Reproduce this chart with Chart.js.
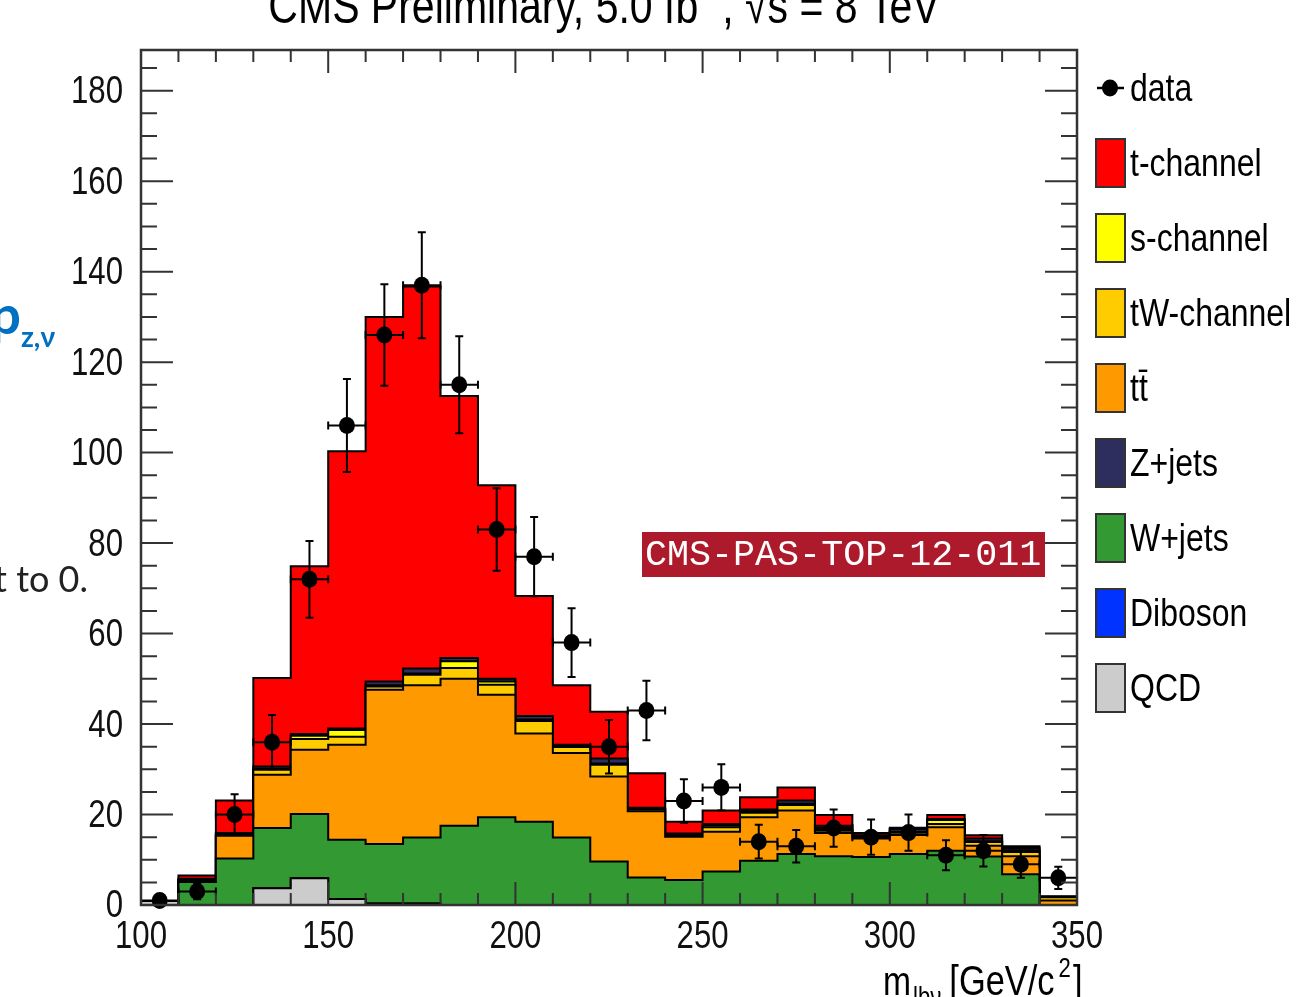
<!DOCTYPE html>
<html><head><meta charset="utf-8">
<script src="https://cdn.jsdelivr.net/npm/chart.js@4.4.0/dist/chart.umd.min.js"></script>
<style>html,body{margin:0;padding:0;background:#fff;overflow:hidden}</style>
</head><body>
<canvas id="c" width="1309" height="997"></canvas>
<script>
// ---- data (bin lower edges, width 10) ----
const binEdges = [100,110,120,130,140,150,160,170,180,190,200,210,220,230,240,250,260,270,280,290,300,310,320,330,340];
const xUpper = 350;
const xTickValues = [100,150,200,250,300,350];
const yTickValues = [0,20,40,60,80,100,120,140,160,180];
const dataCounts  = [1,3,20,36,72,106,126,137,115,83,77,58,35,43,23,26,14,13,17,15,16,11,12,9,6];
const qcdVals     = [0.9,0,0,3.7,5.9,1.3,0,0,0,0,0,0,0,0,0,0,0,0,0,0,0,0,0,0,0];
const dibosonVals = [0,0,0,0,0,0,0.4,0.4,0,0,0,0,0,0,0,0,0,0,0,0,0,0,0,0,0];
const wjetsVals   = [0,5.1,10.3,13.3,14.2,13.1,13.1,14.5,17.5,19.4,18.4,14.9,9.6,6.1,5.5,7.4,9.8,11.3,10.8,10.6,11.3,12.0,10.7,6.8,0];
const ttbarVals   = [0,0.3,5.0,11.8,14.2,21.0,34.1,33.7,32.5,27.1,19.5,18.7,18.8,14.6,9.6,8.8,9.6,9.6,5.1,4.1,4.2,5.2,2.4,4.0,1.0];
const twVals      = [0,0.2,0.3,1.1,2.4,1.8,0.7,2.3,2.4,2.2,2.8,1.3,2.6,0.4,0.2,1.0,1.0,1.2,0.5,0.3,0.5,0.7,0.8,0.9,0.7];
const schanVals   = [0,0,0.1,0.2,0.7,1.5,0.3,0.3,1.5,0.7,0.3,0.2,0.3,0.1,0.1,0.4,0.4,0.3,0.2,0.1,0.2,0.9,0.2,0.4,0.1];
const zjetsVals   = [0,0.2,0.2,0.5,0.4,0.3,0.8,1.1,0.7,0.6,0.8,0.3,1.1,0.3,0.4,0.3,0.3,0.7,0.9,0.3,0.6,0.2,0.6,0.5,0.1];
const tchanVals   = [0,0.7,7.2,19.6,37.1,61.3,80.6,84.4,57.9,42.8,26.5,13.2,10.3,7.6,2.6,3.0,2.7,2.9,2.4,0.5,0.3,0.9,0.7,0.4,0];

const FONT = "'Liberation Sans',Arial,sans-serif";
const SX = 0.82; // horizontal squeeze to mimic the condensed ROOT font

function stepPoints(vals){
  const pts = binEdges.map((e,i)=>({x:e, y:vals[i]}));
  pts.push({x:xUpper, y:vals[vals.length-1]});
  return pts;
}
// stacking order: bottom -> top
const components = [
  {label:'QCD',        vals:qcdVals,     color:'#cccccc'},
  {label:'Diboson',    vals:dibosonVals, color:'#0033ff'},
  {label:'W+jets',     vals:wjetsVals,   color:'#339933'},
  {label:'tt̄',         vals:ttbarVals,   color:'#ff9900'},
  {label:'tW-channel', vals:twVals,      color:'#ffcc00'},
  {label:'s-channel',  vals:schanVals,   color:'#ffff00'},
  {label:'Z+jets',     vals:zjetsVals,   color:'#2e2e5e'},
  {label:'t-channel',  vals:tchanVals,   color:'#ff0000'}
];
const legendOrder = ['t-channel','s-channel','tW-channel','tt̄','Z+jets','W+jets','Diboson','QCD'];

const datasets = components.map((c,i)=>({
  label:c.label, data:stepPoints(c.vals), stepped:true,
  backgroundColor:c.color, borderColor:'#000', borderWidth:2,
  pointRadius:0, fill: i===0 ? 'origin' : '-1'
}));

function sText(ctx, str, x, y, size, align, opts){
  opts = opts || {};
  const sx = opts.sx ?? SX;
  ctx.save();
  ctx.font = (opts.weight?opts.weight+' ':'') + size + 'px ' + (opts.family||FONT);
  ctx.textBaseline = opts.baseline || 'alphabetic';
  ctx.textAlign = 'left';
  if (opts.color) ctx.fillStyle = opts.color;
  const w = ctx.measureText(str).width * sx;
  const x0 = align==='right' ? x-w : align==='center' ? x-w/2 : x;
  ctx.translate(x0, y); ctx.scale(sx, 1);
  ctx.fillText(str, 0, 0);
  ctx.restore();
  return w;
}

const overlay = {
  id:'overlay',
  afterDatasetsDraw(chart){
    const {ctx, scales:{x,y}} = chart;
    ctx.save();
    ctx.strokeStyle='#000'; ctx.fillStyle='#000'; ctx.lineWidth=2;
    dataCounts.forEach((n,i)=>{
      const lo=binEdges[i], hi=(i+1<binEdges.length?binEdges[i+1]:xUpper), c=(lo+hi)/2;
      const px=x.getPixelForValue(c), py=y.getPixelForValue(n);
      const xl=x.getPixelForValue(lo), xr=x.getPixelForValue(hi);
      const e=Math.sqrt(n);
      const yt=y.getPixelForValue(n+e), yb=y.getPixelForValue(Math.max(0,n-e));
      ctx.beginPath();
      ctx.moveTo(xl,py);ctx.lineTo(xr,py);
      ctx.moveTo(xl,py-4);ctx.lineTo(xl,py+4);
      ctx.moveTo(xr,py-4);ctx.lineTo(xr,py+4);
      ctx.moveTo(px,yt);ctx.lineTo(px,yb);
      ctx.moveTo(px-4,yt);ctx.lineTo(px+4,yt);
      ctx.moveTo(px-4,yb);ctx.lineTo(px+4,yb);
      ctx.stroke();
      ctx.beginPath(); ctx.ellipse(px,py,8,8.5,0,0,2*Math.PI); ctx.fill();
    });
    ctx.restore();
  },
  afterDraw(chart){
    const {ctx, chartArea:a, scales:{x,y}} = chart;
    ctx.save();
    // tick marks (inside, all four sides)
    ctx.strokeStyle='#333'; ctx.lineWidth=2;
    ctx.beginPath();
    for(let v=100; v<=350; v+=10){
      const px=x.getPixelForValue(v);
      const L = (v%50===0)?23:12;
      ctx.moveTo(px,a.bottom);ctx.lineTo(px,a.bottom-L);
      ctx.moveTo(px,a.top);ctx.lineTo(px,a.top+L);
    }
    for(let v=0; v<=y.max; v+=5){
      const py=y.getPixelForValue(v);
      const L = (v%20===0)?32:16;
      ctx.moveTo(a.left,py);ctx.lineTo(a.left+L,py);
      ctx.moveTo(a.right,py);ctx.lineTo(a.right-L,py);
    }
    ctx.stroke();
    ctx.lineWidth=2.5; ctx.strokeStyle='#333';
    ctx.strokeRect(a.left,a.top,a.right-a.left,a.bottom-a.top);

    // tick labels, positioned by the chart's scales
    ctx.fillStyle='#111';
    y.ticks.forEach(t=>{
      sText(ctx, String(t.label ?? t.value), a.left-18, y.getPixelForValue(t.value)+2, 38, 'right', {baseline:'middle'});
    });
    x.ticks.forEach(t=>{
      sText(ctx, String(t.label ?? t.value), x.getPixelForValue(t.value), a.bottom+33, 38, 'center', {baseline:'middle'});
    });

    // legend
    ctx.fillStyle='#000';
    let ly=88;
    ctx.strokeStyle='#000'; ctx.lineWidth=2.5;
    ctx.beginPath(); ctx.moveTo(1097,ly); ctx.lineTo(1124,ly); ctx.stroke();
    ctx.beginPath(); ctx.ellipse(1110,ly,8,8.5,0,0,2*Math.PI); ctx.fill();
    sText(ctx,'data',1130,ly+2,39,'left',{baseline:'middle'});
    legendOrder.forEach((lab,k)=>{
      const c=components.find(cc=>cc.label===lab);
      const cy=163+75*k;
      ctx.fillStyle=c.color; ctx.fillRect(1096,cy-24,29,48);
      ctx.strokeStyle='#333'; ctx.lineWidth=2; ctx.strokeRect(1096,cy-24,29,48);
      ctx.fillStyle='#000';
      sText(ctx,lab,1130,cy+2,39,'left',{baseline:'middle'});
    });

    // title (cut at top of page)
    ctx.fillStyle='#000';
    const t1='CMS Preliminary, 5.0 fb', t2='-1', t3=', √s = 8 TeV';
    ctx.font='50px '+FONT; const w1=ctx.measureText(t1).width*SX, w3=ctx.measureText(t3).width*SX;
    ctx.font='33px '+FONT; const w2=ctx.measureText(t2).width*SX;
    let tx=604-(w1+w2+w3)/2;
    sText(ctx,t1,tx,23,50,'left'); tx+=w1;
    sText(ctx,t2,tx,-5,33,'left'); tx+=w2;
    sText(ctx,t3,tx,23,50,'left');

    // x axis title
    let ax=883;
    ax += sText(ctx,'m',ax,995,41,'left')+2;
    ax += sText(ctx,'lbν',ax,1006,27,'left')+8;
    ax += sText(ctx,'[GeV/c',ax,995,42,'left')+4;
    ax += sText(ctx,'2',ax,977,27,'left')+2;
    sText(ctx,']',ax,995,42,'left');

    // CMS-PAS label
    ctx.fillStyle='#ad1a2b'; ctx.fillRect(642,532,403,45);
    ctx.fillStyle='#fff';
    sText(ctx,'CMS-PAS-TOP-12-011',645,565,36.7,'left',{sx:1,family:"'Liberation Mono','Courier New',monospace"});

    // slide fragments at left edge
    sText(ctx,'p',21,334,54,'right',{sx:1,weight:'bold',family:"Lato,'Noto Sans',sans-serif",color:'#0070c0'});
    sText(ctx,'z,ν',21,347,28,'left',{sx:1,weight:'bold',family:"Lato,'Noto Sans',sans-serif",color:'#0070c0'});
    sText(ctx,'t to 0.',88,592,36,'right',{sx:1,family:"Lato,'Noto Sans',sans-serif",color:'#222'});
    ctx.restore();
  }
};

new Chart(document.getElementById('c').getContext('2d'), {
  type:'line',
  data:{datasets},
  options:{
    responsive:false, animation:false, devicePixelRatio:1,
    layout:{padding:{left:0, top:50, right:232, bottom:0}},
    plugins:{legend:{display:false}, tooltip:{enabled:false}, title:{display:false}},
    elements:{line:{tension:0}, point:{radius:0}},
    scales:{
      x:{type:'linear', min:100, max:350,
        afterBuildTicks:s=>{s.ticks=xTickValues.map(v=>({value:v}));},
        afterFit:s=>{s.height=92;},
        grid:{display:false, drawTicks:false}, border:{display:false},
        ticks:{display:false, autoSkip:false}},
      y:{type:'linear', stacked:true, min:0, max:189,
        afterBuildTicks:s=>{s.ticks=yTickValues.map(v=>({value:v}));},
        afterFit:s=>{s.width=141;},
        grid:{display:false, drawTicks:false}, border:{display:false},
        ticks:{display:false, autoSkip:false}}
    }
  },
  plugins:[overlay]
});
</script>
</body></html>
